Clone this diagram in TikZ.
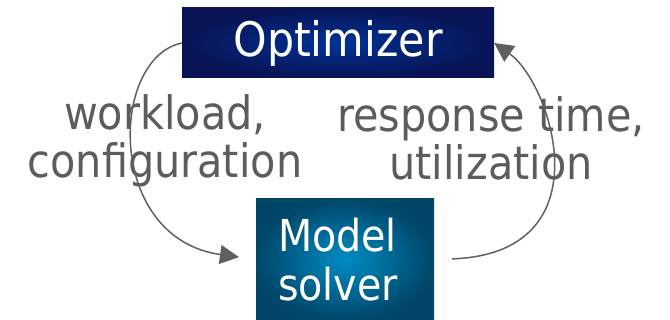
\documentclass[tikz,border=0pt]{standalone}
\usepackage{fontspec}
\setmainfont{DejaVu Sans Condensed}
\usetikzlibrary{arrows.meta}

\definecolor{optout}{RGB}{8,20,85}
\definecolor{optin}{RGB}{0,50,150}
\definecolor{solout}{RGB}{0,70,105}
\definecolor{solin}{RGB}{0,140,195}
\definecolor{labelgray}{RGB}{92,92,92}
\definecolor{loopgray}{RGB}{96,96,96}

\begin{document}
\begin{tikzpicture}[x=1pt,y=1pt,
  box/.style={inner sep=0pt, text=white},
  loop/.style={line width=1.5pt, loopgray, -{Triangle[length=19pt,width=19pt]}},
  lbl/.style={align=center, text=labelgray, font=\fontsize{46}{48}\selectfont}]

  \useasboundingbox (0,0) rectangle (670,320);

  \node[box, minimum width=312pt, minimum height=70pt, inner color=optin, outer color=optout,
        font=\fontsize{47.5}{50}\selectfont] (opt) at (338,277) {Optimizer};
  \node[box, minimum width=178pt, minimum height=121pt, inner color=solin, outer color=solout,
        text width=134pt, align=left, font=\fontsize{44}{49}\selectfont] (sol) at (345,60.5) {Model\\solver};

  \node[lbl] (wl) at (165,179) {workload,\\configuration};
  \node[lbl] (rt) at (491,182) {response time,\\utilization};

  \draw[loop, shorten >=17pt] (opt.west) to[out=192, in=172, out distance=74pt, in distance=152pt] (sol.west);
  \draw[loop, shorten <=18pt] (sol.east) to[out=2, in=-35, out distance=173pt, in distance=70pt] (opt.east);
\end{tikzpicture}
\end{document}
